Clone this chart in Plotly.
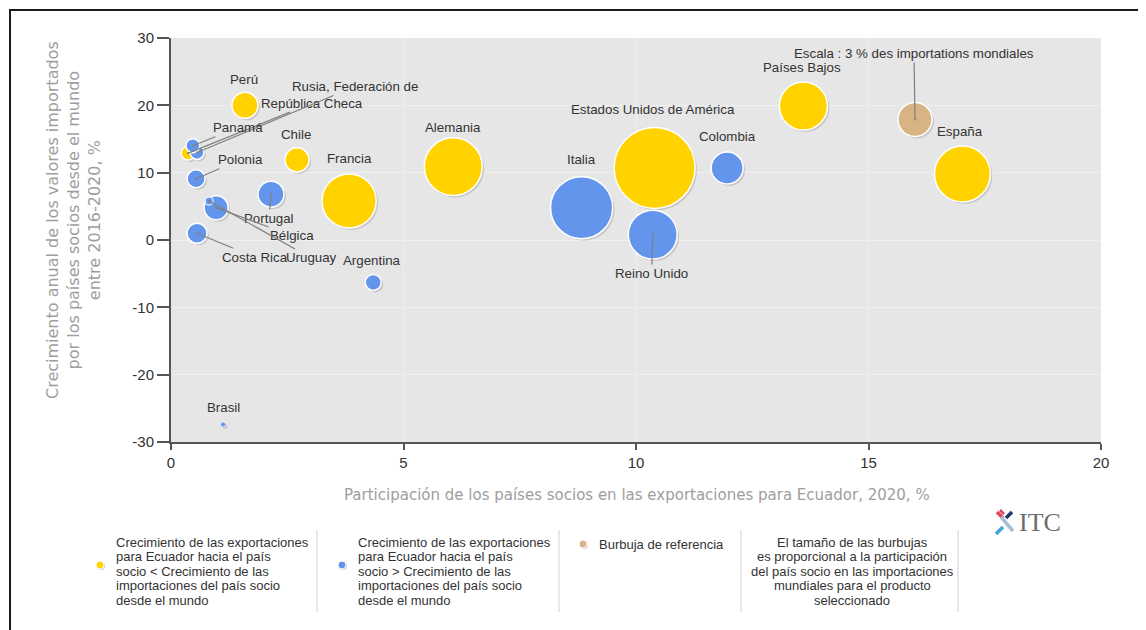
import math
import plotly.graph_objects as go

# ---------------- data ----------------
countries = ["Estados Unidos de América", "Italia", "Alemania", "España", "Francia",
             "Reino Unido", "Países Bajos", "Colombia", "Perú", "Portugal", "Chile",
             "Bélgica", "Costa Rica", "Polonia", "Argentina", "República Checa",
             "Rusia, Federación de", "Panamá", "Uruguay", "Brasil",
             "Escala : 3 % des importations mondiales"]
export_share = [10.4, 8.83, 6.07, 17.02, 3.83, 10.36, 13.6, 11.96, 1.59, 2.15, 2.71,
                0.97, 0.56, 0.54, 4.35, 0.37, 0.56, 0.47, 0.82, 1.12, 16.0]
import_growth = [10.7, 4.8, 10.9, 9.8, 5.8, 0.8, 19.9, 10.7, 20.0, 6.8, 11.9,
                 4.8, 1.0, 9.1, -6.3, 12.9, 13.0, 14.0, 5.8, -27.4, 17.9]
world_import_share = [17.0, 10.0, 8.7, 8.1, 7.6, 6.2, 6.0, 2.66, 1.75, 1.75, 1.5,
                      1.5, 1.04, 0.84, 0.66, 0.5, 0.5, 0.5, 0.17, 0.065, 3.0]
group = ["low", "high", "low", "low", "low", "high", "low", "high", "low", "high", "low",
         "high", "high", "high", "high", "low", "high", "high", "high", "high", "ref"]

x_ticks = [0, 5, 10, 15, 20]
y_ticks = [-30, -20, -10, 0, 10, 20, 30]
y_tick_labels = ["-30", "-20", "-10", "0", "10", "20", "30"]

x_title = "Participación de los países socios en las exportaciones para Ecuador, 2020, %"
y_title = ("Crecimiento anual de los valores importados<br>por los países socios desde el mundo"
           "<br>entre 2016-2020, %")
legend_texts = [
    ["Crecimiento de las exportaciones", "para Ecuador hacia el país",
     "socio &lt; Crecimiento de las", "importaciones del país socio", "desde el mundo"],
    ["Crecimiento de las exportaciones", "para Ecuador hacia el país",
     "socio &gt; Crecimiento de las", "importaciones del país socio", "desde el mundo"],
    ["Burbuja de referencia"],
    ["El tamaño de las burbujas", "es proporcional a la participación",
     "del país socio en las importaciones", "mundiales para el producto", "seleccionado"],
]

# ---------------- styles / layout ----------------
OFF = 8                              # page body margin of the html
W, H = 1146 - OFF, 630 - OFF
L, R, T, B = 171, 1101, 38, 442      # plot area in page px
colors = {"low": "#FFD200", "high": "#6495ED", "ref": "#D8B383"}
SIZEREF = 3.0 / (2 * 17 ** 2)        # 3 % -> 17 px radius

# label offsets in px (ax, ay, leader line?)
label_offsets = {
    "Estados Unidos de América": (-2, -58, False),
    "Italia": (0, -48, False),
    "Alemania": (0, -39, False),
    "España": (-2, -43, False),
    "Francia": (0, -42, False),
    "Reino Unido": (-1, 39, True),
    "Países Bajos": (-1, -39, False),
    "Colombia": (0, -31, False),
    "Perú": (-1, -26, False),
    "Portugal": (-2, 24, True),
    "Chile": (-1, -25, False),
    "Bélgica": (76, 28, True),
    "Costa Rica": (58, 24, True),
    "Polonia": (44, -19, True),
    "Argentina": (-1, -22, False),
    "República Checa": (124, -50, True),
    "Rusia, Federación de": (158, -66, True),
    "Panamá": (45, -18, True),
    "Uruguay": (102, 57, True),
    "Brasil": (0, -17, False),
    "Escala : 3 % des importations mondiales": (-1, -66, True),
}


def px(xp, yp):
    return (xp - L) / (R - L), (B - yp) / (B - T)


fig = go.Figure()

# shadows
dx = 2.0 * 20 / (R - L)
dy = -2.0 * 60 / (B - T)
fig.add_trace(go.Scatter(
    x=[v + dx for v in export_share], y=[v + dy for v in import_growth],
    mode="markers", hoverinfo="skip", showlegend=False,
    marker=dict(size=world_import_share, sizemode="area", sizeref=SIZEREF,
                color="rgba(60,60,60,0.25)", line=dict(width=0)),
))

for g in ["low", "high", "ref"]:
    idx = [i for i, k in enumerate(group) if k == g]
    radii = [math.sqrt(world_import_share[i] / (2 * SIZEREF)) for i in idx]
    fig.add_trace(go.Scatter(
        x=[export_share[i] for i in idx], y=[import_growth[i] for i in idx],
        text=[countries[i] for i in idx], mode="markers", showlegend=False,
        hovertemplate="%{text}<br>%{x}<br>%{y}<extra></extra>",
        marker=dict(size=[world_import_share[i] for i in idx], sizemode="area",
                    sizeref=SIZEREF, color=colors[g], opacity=1,
                    line=dict(width=[min(1.5, r / 4) for r in radii], color="white")),
    ))

annotations = []
for i, name in enumerate(countries):
    ax, ay, line = label_offsets[name]
    annotations.append(dict(
        x=export_share[i], y=import_growth[i], xref="x", yref="y",
        text=name, showarrow=True, ax=ax, ay=ay, axref="pixel", ayref="pixel",
        arrowhead=6 if line else 0, arrowsize=0.45, arrowwidth=1.2, standoff=0,
        arrowcolor="#7f7f7f" if line else "rgba(0,0,0,0)",
        font=dict(family="Liberation Sans, Arial", size=13.3, color="#333333"),
    ))


def paper_note(xp, yp, text, font, **kw):
    xx, yy = px(xp, yp)
    d = dict(x=xx, y=yy, xref="paper", yref="paper", text=text, showarrow=False,
             xanchor="center", yanchor="middle", font=font)
    d.update(kw)
    annotations.append(d)


# axis titles
paper_note(637, 495, x_title, dict(family="DejaVu Sans", size=15, color="#9e9e9e"))
paper_note(74, 220, y_title, dict(family="DejaVu Sans", size=16, color="#9e9e9e"),
           textangle=-90)

# legend texts, one annotation per line
leg_pos = [(114, 542, "left"), (356, 542, "left"), (597, 544, "left"), (852, 542, "center")]
LINE_H = 14.6
for lines, (lx, ly, al) in zip(legend_texts, leg_pos):
    for k, t in enumerate(lines):
        paper_note(lx, ly + k * LINE_H, t,
                   dict(family="Liberation Sans, Arial", size=13, color="#333333"),
                   xanchor=al, align=al)
# ITC text
paper_note(1040, 522, "ITC", dict(family="Liberation Serif, DejaVu Serif", size=26,
                                  color="#6d6d6d"))

shapes = []
# legend dots
for (cx, cy), g in zip([(100, 565), (342, 565), (583, 544)], ["low", "high", "ref"]):
    xx, yy = px(cx + 1, cy + 1)
    shapes.append(dict(type="circle", xref="paper", yref="paper", xsizemode="pixel",
                       ysizemode="pixel", xanchor=xx, yanchor=yy, x0=-4, x1=4, y0=-4, y1=4,
                       fillcolor="rgba(60,60,60,0.25)", line=dict(width=0)))
    xx, yy = px(cx, cy)
    shapes.append(dict(type="circle", xref="paper", yref="paper", xsizemode="pixel",
                       ysizemode="pixel", xanchor=xx, yanchor=yy, x0=-4, x1=4, y0=-4, y1=4,
                       fillcolor=colors[g], line=dict(color="white", width=1)))
# separators
for sx in [317, 559, 741, 958]:
    x0, y0 = px(sx, 530)
    _, y1 = px(sx, 612)
    shapes.append(dict(type="line", xref="paper", yref="paper", x0=x0, x1=x0, y0=y0, y1=y1,
                       line=dict(color="#d0d0d0", width=1)))
# ITC icon (stylised crossing strips)
for (a, b, c, d, col, w) in [(997, 512, 1003, 518, "#e0455e", 3.5),
                             (1000, 510, 1004, 514, "#e0455e", 2.5),
                             (1006, 518, 1012, 512, "#1f3a68", 3.5),
                             (996, 534, 1003, 527, "#3aa8de", 3.5),
                             (1001, 517, 1013, 531, "#a9bfd6", 3.5)]:
    x0, y0 = px(a, b)
    x1, y1 = px(c, d)
    shapes.append(dict(type="line", xref="paper", yref="paper", x0=x0, y0=y0, x1=x1, y1=y1,
                       line=dict(color=col, width=w)))
# outer frame
x0, y0 = px(10, 10)
x1, y1 = px(1143, 660)
shapes.append(dict(type="rect", xref="paper", yref="paper", x0=x0, y0=y0, x1=x1, y1=y1,
                   line=dict(color="#1a1a1a", width=2), fillcolor="rgba(0,0,0,0)", layer="above"))

fig.update_layout(
    width=W, height=H, autosize=False,
    margin=dict(l=L - OFF, r=(W + OFF) - R, t=T - OFF, b=(H + OFF) - B, pad=0),
    paper_bgcolor="white", plot_bgcolor="#e6e6e6",
    annotations=annotations, shapes=shapes,
    font=dict(family="Liberation Sans, Arial", color="#333333"),
)
fig.update_xaxes(range=[0, 20], tickvals=x_ticks, ticks="outside", ticklen=6, tickwidth=1.5,
                 tickcolor="#555555", showline=True, linecolor="#555555", linewidth=2,
                 showgrid=True, gridcolor="#efefef", gridwidth=1, zeroline=False,
                 tickfont=dict(size=15, color="#333333"))
fig.update_yaxes(range=[-30, 30], tickvals=y_ticks, ticktext=y_tick_labels, ticks="outside",
                 ticklen=12, tickwidth=1.5,
                 tickcolor="#555555", showline=True, linecolor="#555555", linewidth=2,
                 showgrid=True, gridcolor="#efefef", gridwidth=1, zeroline=False,
                 tickfont=dict(size=15, color="#333333"))

fig.write_html("out.html")
